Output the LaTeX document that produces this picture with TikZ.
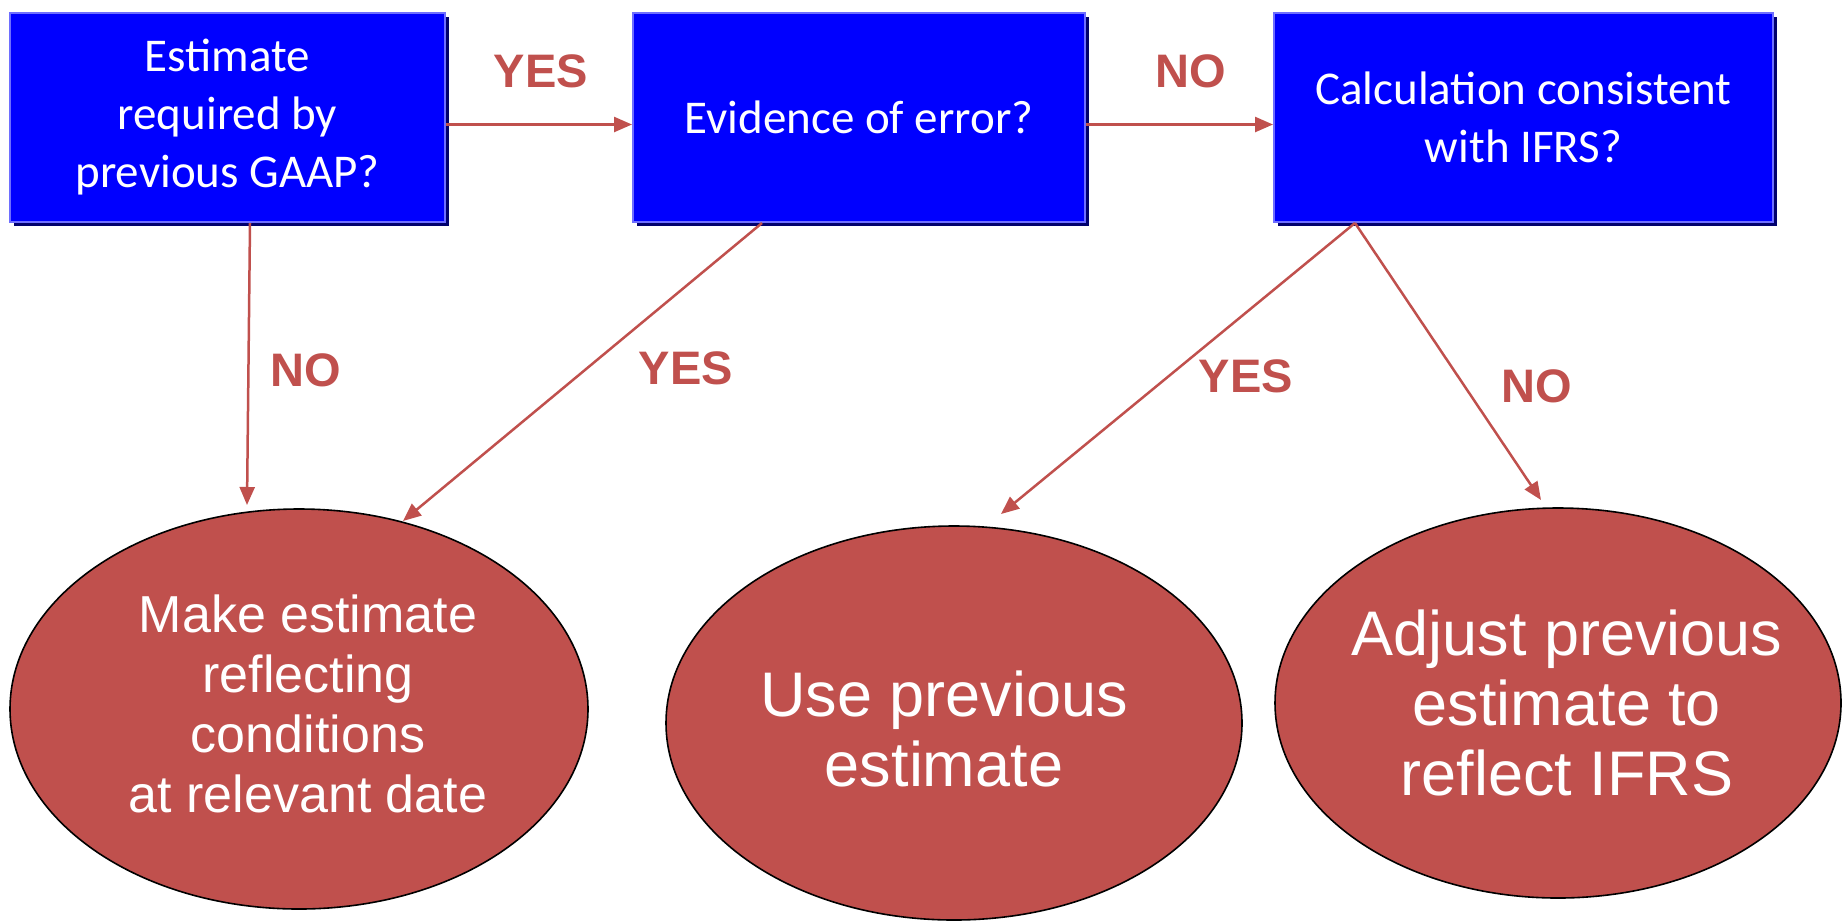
\documentclass[tikz,border=0pt]{standalone}
\usepackage{fontspec}
\setmainfont{Liberation Sans}
\newfontfamily\boxfont{Carlito}
\usetikzlibrary{shapes.geometric,arrows.meta,calc,shadows}
\definecolor{redc}{HTML}{C0504D}
\definecolor{boxblue}{RGB}{0,0,255}
\definecolor{boxedge}{RGB}{110,110,255}
\definecolor{boxshadow}{RGB}{0,0,110}
\begin{document}
\begin{tikzpicture}[x=1pt,y=-1pt,
  qbox/.style={fill=boxblue, draw=boxedge, line width=2pt, minimum width=#1, minimum height=209pt,
    inner sep=0pt, text=white, font=\boxfont\fontsize{47}{58}\selectfont, align=center, anchor=north west,
    drop shadow={shadow xshift=4pt, shadow yshift=-4pt, fill=boxshadow, opacity=1}},
  oval/.style={ellipse, draw=black, line width=1.6pt, fill=redc, inner sep=0pt},
  etext/.style 2 args={text=white, align=center, font=\fontsize{#1}{#2}\selectfont},
  lab/.style={text=redc, font=\bfseries\fontsize{47}{56}\selectfont},
  conn/.style={draw=redc, line width=2.5pt, -{Triangle[length=18pt,width=15pt]}}]
\useasboundingbox (0,0) rectangle (1843,922);

% question boxes
\node[qbox=435pt] (b1) at (9,12) {Estimate\\required by\\previous GAAP?};
\node[qbox=452pt] (b2) at (632,12) {Evidence of error?};
\node[qbox=499pt] (b3) at (1273,12) {Calculation consistent\\with IFRS?};

% outcome ellipses
\node[oval, minimum width=578pt, minimum height=400pt] (e1) at (299,709) {};
\node[oval, minimum width=576pt, minimum height=394pt] (e2) at (954,723) {};
\node[oval, minimum width=566pt, minimum height=390pt] (e3) at (1558,703) {};
\node[etext={52}{60}] (e1t) at (308,704) {Make estimate\\reflecting\\conditions\\at relevant date};
\node[etext={63}{70}] (e2t) at (944,729) {Use previous\\estimate};
\node[etext={63}{70}] (e3t) at (1567,703) {Adjust previous\\estimate to\\reflect IFRS};

% connector ends
\coordinate (s1) at ($(b1.south west)+(241,0)$);
\coordinate (s2) at ($(b2.south west)+(130,0)$);
\coordinate (s3) at ($(b3.south west)+(82,0)$);
\coordinate (t1) at (247,505);
\coordinate (t2) at (403,521);
\coordinate (t3) at (1001,514);
\coordinate (t4) at (1541,500);

\draw[conn] ($(b1.east)+(0,7)$) -- ($(b2.west)+(0,7)$);
\draw[conn] ($(b2.east)+(0,7)$) -- ($(b3.west)+(0,7)$);
\draw[conn] (s1) -- (t1);
\draw[conn] (s2) -- (t2);
\draw[conn] (s3) -- (t3);
\draw[conn] (s3) -- (t4);

% labels
\node[lab] (l1) at (541,71) {YES};
\node[lab] (l2) at (1191,71) {NO};
\node[lab] (l3) at (306,370) {NO};
\node[lab] (l4) at (686,368) {YES};
\node[lab] (l5) at (1246,376) {YES};
\node[lab] (l6) at (1537,386) {NO};
\end{tikzpicture}
\end{document}
